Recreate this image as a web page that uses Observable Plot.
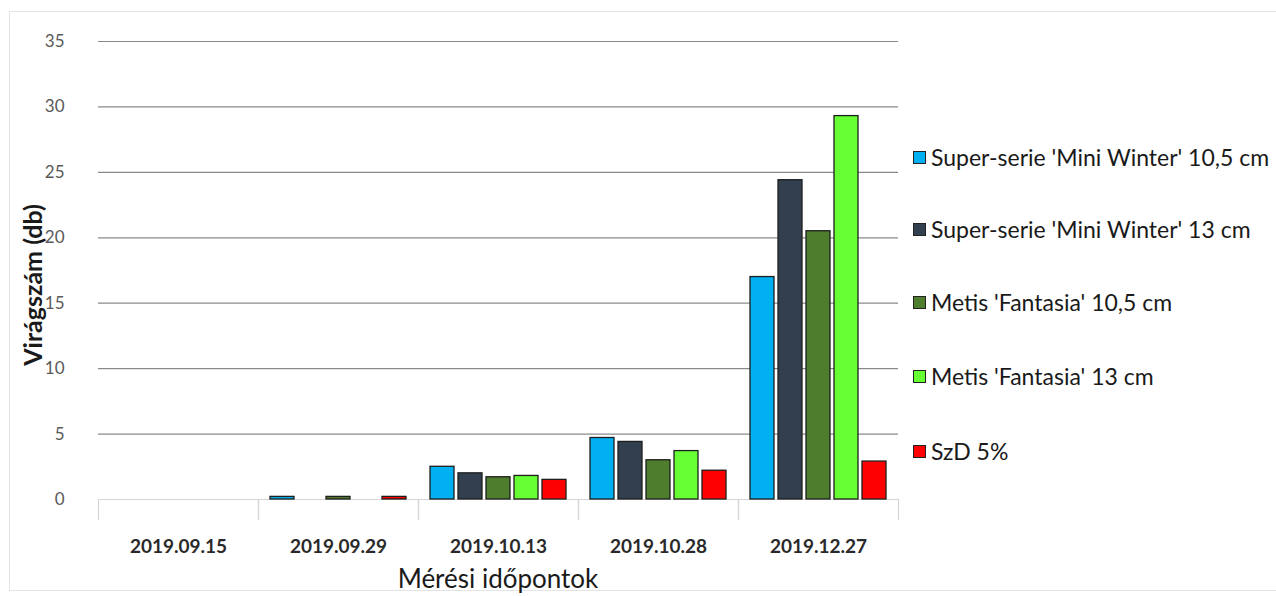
<!DOCTYPE html>
<html>
<head>
<meta charset="utf-8">
<script src="https://cdn.jsdelivr.net/npm/d3@7"></script>
<script src="https://cdn.jsdelivr.net/npm/@observablehq/plot@0.6"></script>
<style>
  html, body { margin: 0; padding: 0; background: #fff; }
  #wrap { position: relative; width: 1276px; height: 596px; overflow: hidden; font-family: Lato, "Open Sans", sans-serif; }
  #border { position: absolute; left: 9px; top: 11px; width: 1300px; height: 580px; border: 1.5px solid #e3e3e3; box-sizing: border-box; }
  #chart { position: absolute; left: 0; top: 0; }
  #legend { position: absolute; left: 913px; top: 0; }
  .li { position: absolute; left: 0; white-space: nowrap; font-size: 23px; color: #1a1a1a; display: flex; align-items: center; }
  .sw { width: 11px; height: 11px; border: 1px solid #222; margin-right: 5px; display: inline-block; flex: none; }
</style>
</head>
<body>
<div id="wrap">
  <div id="border"></div>
  <div id="chart"></div>
  <div id="legend"></div>
</div>
<script>
const dates = ["2019.09.15", "2019.09.29", "2019.10.13", "2019.10.28", "2019.12.27"];
const series = [
  "Super-serie 'Mini Winter' 10,5 cm",
  "Super-serie 'Mini Winter' 13 cm",
  "Metis 'Fantasia' 10,5 cm",
  "Metis 'Fantasia' 13 cm",
  "SzD 5%"
];
const colors = ["#00B0F0", "#323F4F", "#4E7D2E", "#66FF33", "#FF0000"];
const miniWinter105 = [0, 0.2, 2.5, 4.7, 17.0];
const miniWinter13  = [0, 0,   2.0, 4.4, 24.4];
const fantasia105   = [0, 0.2, 1.7, 3.0, 20.5];
const fantasia13    = [0, 0,   1.8, 3.7, 29.3];
const szd5          = [0, 0.2, 1.5, 2.2, 2.9];
const yTicks = [0, 5, 10, 15, 20, 25, 30, 35];
const yTitle = "Virágszám (db)";
const xTitle = "Mérési időpontok";

const seriesValues = [miniWinter105, miniWinter13, fantasia105, fantasia13, szd5];
const data = [];
dates.forEach((d, i) => {
  series.forEach((s, j) => data.push({date: d, series: s, value: seriesValues[j][i]}));
});

const W = 1276, H = 596;
const mL = 97, mR = 377, mT = 41, mB = 97;

const plot = Plot.plot({
  width: W,
  height: H,
  marginLeft: mL,
  marginRight: mR,
  marginTop: mT,
  marginBottom: mB,
  style: {fontFamily: "Lato, 'Open Sans', sans-serif", background: "transparent", overflow: "visible"},
  fx: {domain: dates, padding: 0, label: null},
  x: {domain: series, paddingInner: 0.138, paddingOuter: 0.345, axis: null},
  y: {domain: [0, 35], label: null},
  color: {domain: series, range: colors},
  marks: [
    Plot.ruleY(yTicks.filter(v => v > 0), {stroke: "#8a8a8a", strokeWidth: 1.2}),
    Plot.ruleY([0], {stroke: "#d6d6d6", strokeWidth: 1.2}),
    Plot.frame({anchor: "left", stroke: "#d6d6d6", strokeWidth: 1.2, insetTop: H - mT - mB, insetBottom: -20}),
    Plot.frame({anchor: "right", stroke: "#d6d6d6", strokeWidth: 1.2, insetTop: H - mT - mB, insetBottom: -20}),
    Plot.barY(data, {fx: "date", x: "series", y: "value", fill: "series", stroke: "#1e1e1e", strokeWidth: 1.3}),
    Plot.axisY({ticks: yTicks, tickSize: 0, tickPadding: 34, fontSize: 17, fill: "#595959", label: null}),
    Plot.axisFx({anchor: "bottom", tickSize: 0, tickPadding: 40, fontSize: 19, fontWeight: "bold", fill: "#2a2a2a", label: null})
  ]
});
document.getElementById("chart").appendChild(plot);

const svg = d3.select(plot);
svg.append("text")
  .attr("transform", "translate(42,285) rotate(-90)")
  .attr("text-anchor", "middle")
  .attr("font-size", 25)
  .attr("font-weight", "bold")
  .attr("fill", "#1a1a1a")
  .text(yTitle);
svg.append("text")
  .attr("x", (mL + (W - mR)) / 2)
  .attr("y", 588)
  .attr("text-anchor", "middle")
  .attr("font-size", 26)
  .attr("fill", "#1a1a1a")
  .text(xTitle);

const legendY = [157, 229, 302, 376, 451];
const legend = d3.select("#legend");
series.forEach((s, j) => {
  const row = legend.append("div").attr("class", "li").style("top", (legendY[j] - 15) + "px").style("height", "30px");
  row.append("span").attr("class", "sw").style("background", colors[j]);
  row.append("span").text(s);
});
</script>
</body>
</html>
